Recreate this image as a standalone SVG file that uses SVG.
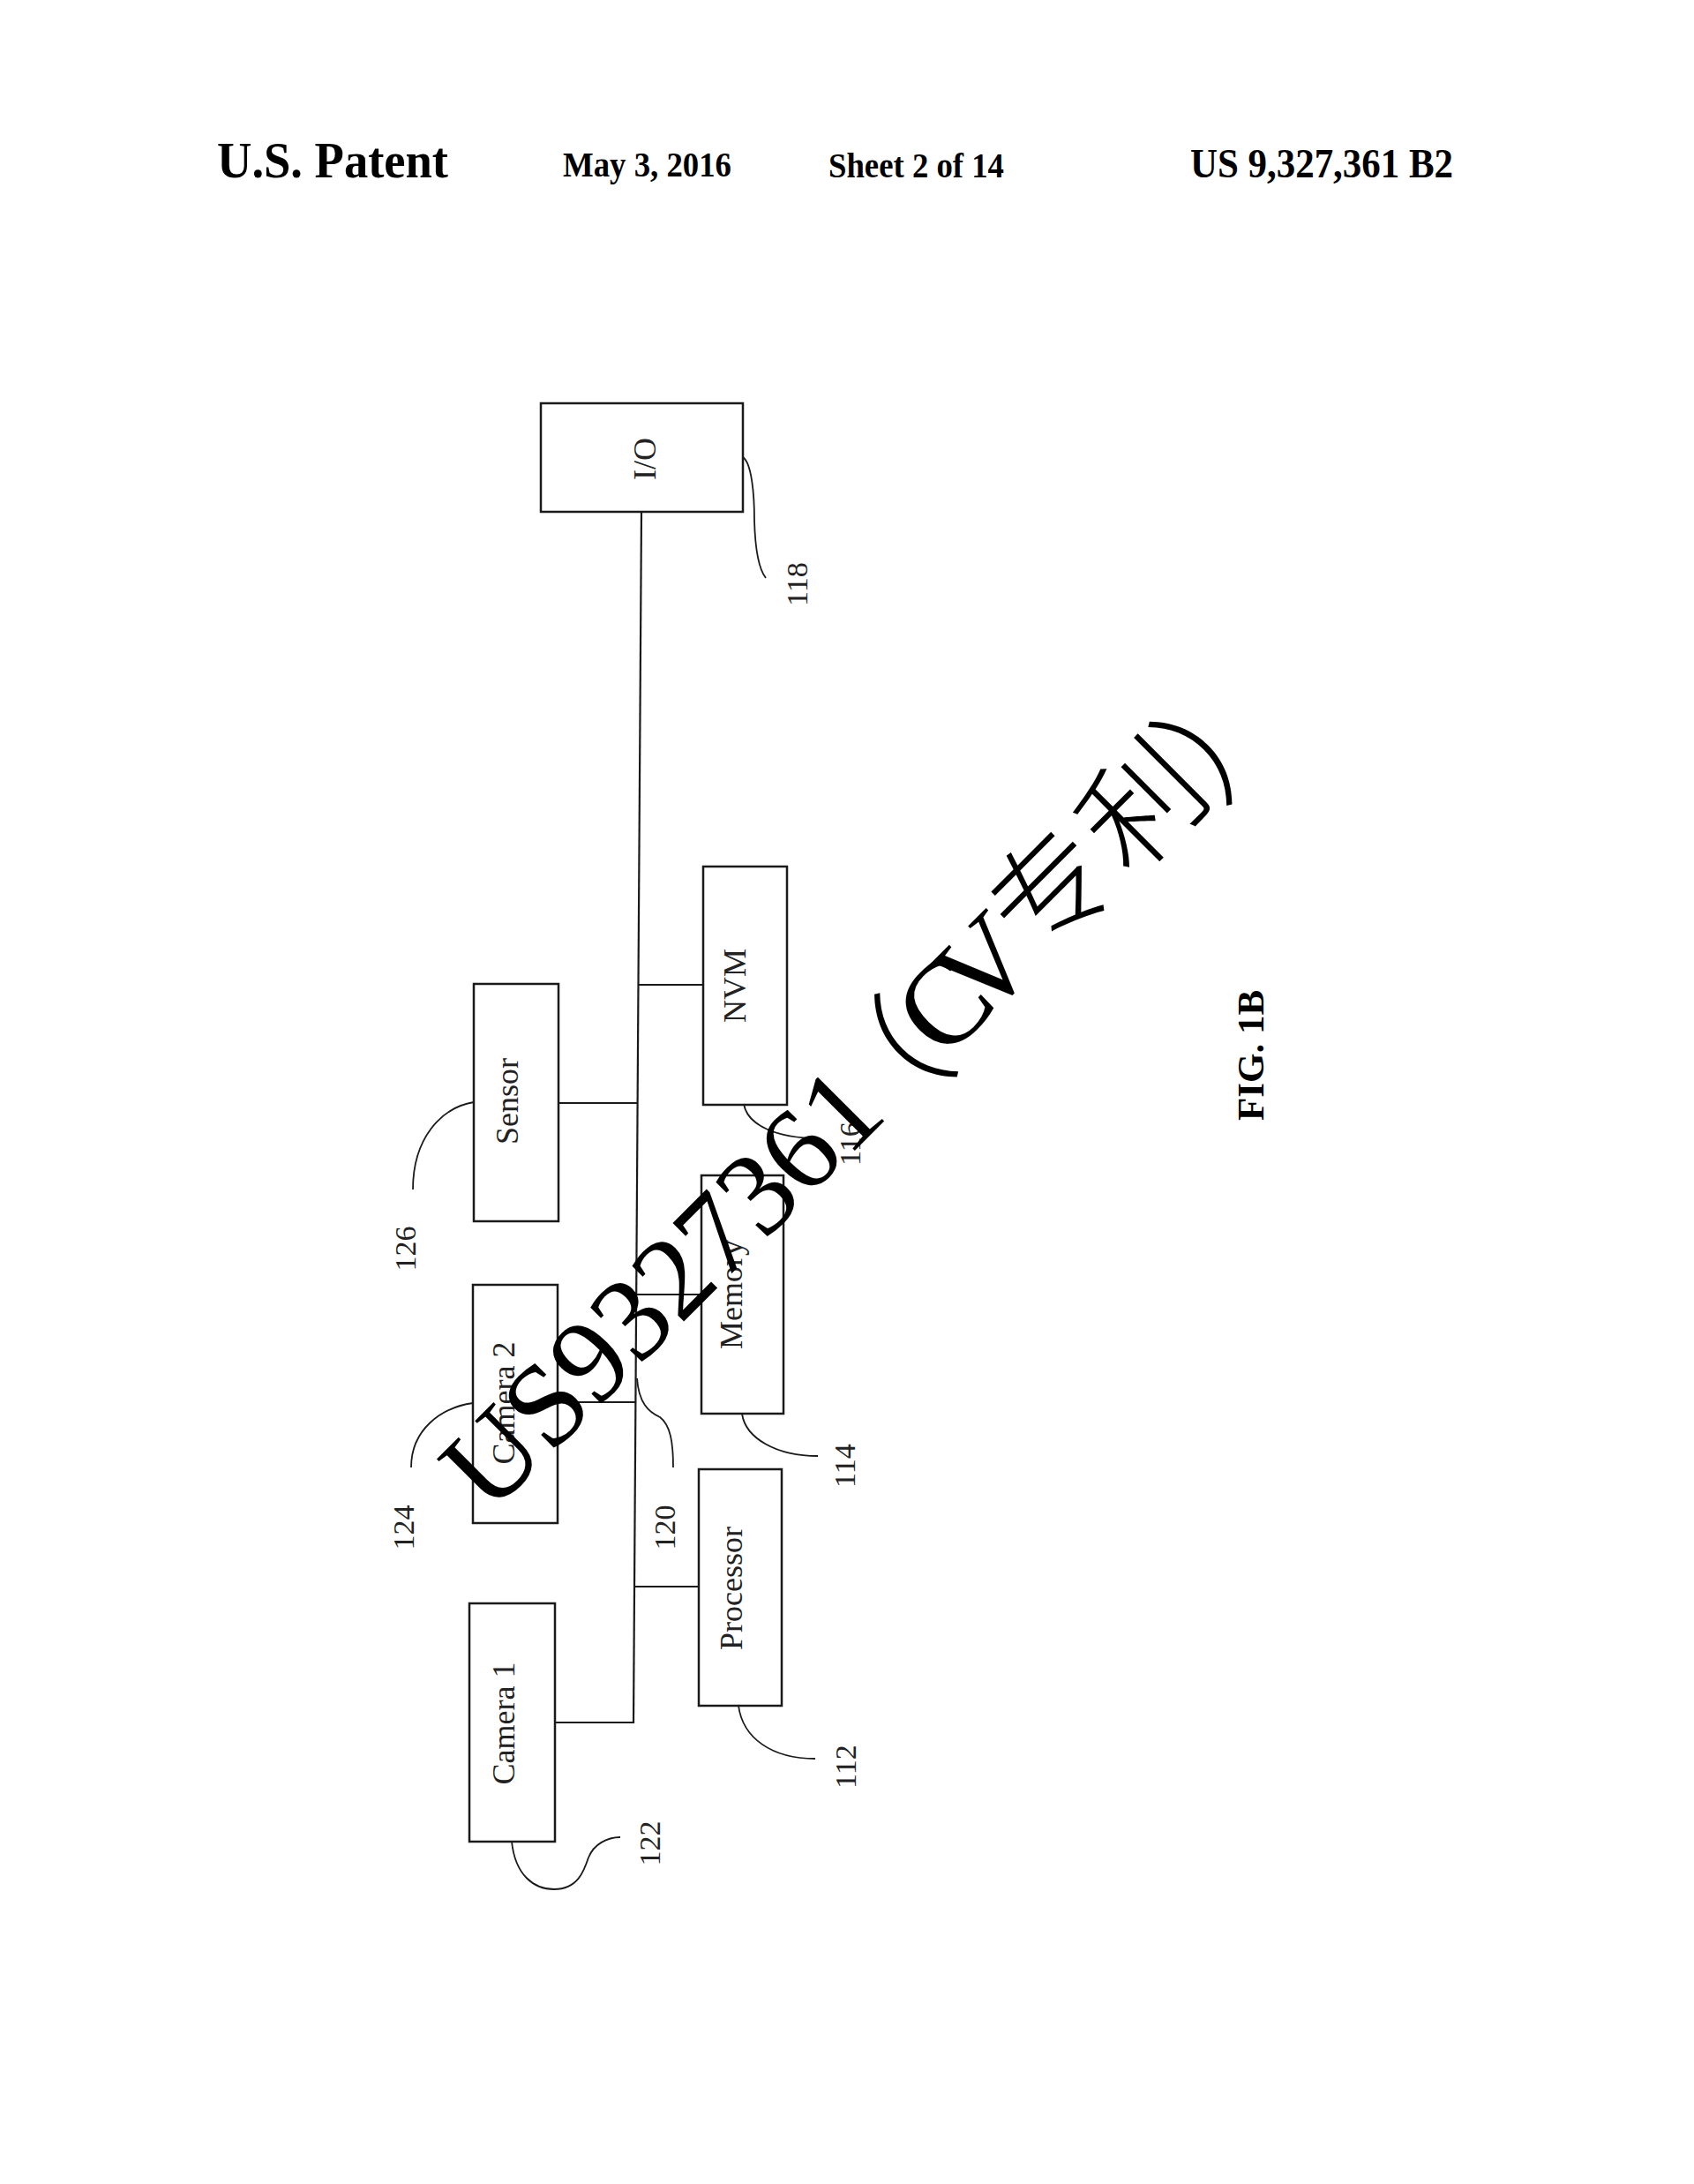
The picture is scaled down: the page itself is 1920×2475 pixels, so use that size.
<svg xmlns="http://www.w3.org/2000/svg" width="1920" height="2475" viewBox="0 0 1920 2475">
<defs>
<style>
.box{fill:none;stroke:#1a1a1a;stroke-width:2.5}
.ln{fill:none;stroke:#1a1a1a;stroke-width:2.2}
.ld{fill:none;stroke:#1a1a1a;stroke-width:1.8}
.hd{font-family:"Liberation Serif","Times New Roman",serif;font-weight:bold;fill:#000}
.lb{font-family:"Liberation Serif","Times New Roman",serif;font-size:36px;fill:#222;text-anchor:middle}
.num{font-family:"Liberation Serif","Times New Roman",serif;font-size:34px;fill:#222;text-anchor:middle}
.wm{font-family:"Liberation Serif","Noto Sans CJK SC",serif;fill:#000}
.wl{font-family:"Liberation Serif","Times New Roman",serif}
.wc{font-family:"Noto Sans CJK SC","Noto Sans CJK TC",sans-serif;font-weight:300}
</style>
</defs>
<rect x="0" y="0" width="1920" height="2475" fill="#fff"/>
<g id="header">
<text class="hd" x="246" y="201" font-size="58" textLength="262" lengthAdjust="spacingAndGlyphs">U.S. Patent</text>
<text class="hd" x="638" y="200" font-size="40" textLength="191" lengthAdjust="spacingAndGlyphs">May 3, 2016</text>
<text class="hd" x="939" y="201" font-size="41" textLength="199" lengthAdjust="spacingAndGlyphs">Sheet 2 of 14</text>
<text class="hd" x="1349" y="201" font-size="46" textLength="298" lengthAdjust="spacingAndGlyphs">US 9,327,361 B2</text>
</g>
<g id="connectors">
<line class="ln" x1="727" y1="580" x2="718" y2="1953"/>
<line class="ln" x1="723" y1="1116" x2="797" y2="1116"/>
<line class="ln" x1="633" y1="1250" x2="722" y2="1250"/>
<line class="ln" x1="720" y1="1467" x2="795" y2="1467"/>
<line class="ln" x1="632" y1="1589" x2="720" y2="1589"/>
<line class="ln" x1="719" y1="1798" x2="791" y2="1798"/>
<line class="ln" x1="629" y1="1952" x2="718" y2="1952"/>
</g>
<g id="leaders">
<path class="ld" d="M842,518 C852,525 855,560 855,590 C856,625 860,645 868,655"/>
<path class="ld" d="M843,1251 C847,1275 880,1290 928,1290"/>
<path class="ld" d="M537,1249 C500,1255 468,1290 468,1348"/>
<path class="ld" d="M841,1602 C845,1630 880,1650 927,1650"/>
<path class="ld" d="M536,1590 C500,1595 466,1620 466,1663"/>
<path class="ld" d="M722,1562 C724,1590 735,1600 748,1606 C760,1615 763,1635 763,1663"/>
<path class="ld" d="M837,1933 C842,1970 875,1993 924,1993"/>
<path class="ld" d="M580,2087 C584,2125 605,2141 628,2141 C655,2141 662,2120 667,2105 C673,2090 688,2082 703,2082"/>
</g>
<g id="io">
<rect class="box" x="613" y="457" width="229" height="123"/>
<text class="lb" transform="translate(743,520) rotate(-90)">I/O</text>
</g>
<g id="nvm">
<rect class="box" x="797" y="982" width="95" height="270"/>
<text class="lb" transform="translate(845,1117) rotate(-90)">NVM</text>
</g>
<g id="sensor">
<rect class="box" x="537" y="1115" width="96" height="269"/>
<text class="lb" transform="translate(587,1248) rotate(-90)">Sensor</text>
</g>
<g id="memory">
<rect class="box" x="795" y="1332" width="93" height="270"/>
<text class="lb" transform="translate(841,1467) rotate(-90)">Memory</text>
</g>
<g id="camera2">
<rect class="box" x="536" y="1456" width="96" height="270"/>
<text class="lb" transform="translate(583,1590) rotate(-90)">Camera 2</text>
</g>
<g id="processor">
<rect class="box" x="792" y="1665" width="94" height="268"/>
<text class="lb" transform="translate(841,1800) rotate(-90)">Processor</text>
</g>
<g id="camera1">
<rect class="box" x="532" y="1817" width="97" height="270"/>
<text class="lb" transform="translate(583,1953) rotate(-90)">Camera 1</text>
</g>
<g id="labels">
<text class="num" transform="translate(915,662) rotate(-90)">118</text>
<text class="num" transform="translate(975,1296) rotate(-90)">116</text>
<text class="num" transform="translate(471,1415) rotate(-90)">126</text>
<text class="num" transform="translate(969,1661) rotate(-90)">114</text>
<text class="num" transform="translate(469,1731) rotate(-90)">124</text>
<text class="num" transform="translate(765,1731) rotate(-90)">120</text>
<text class="num" transform="translate(970,2002) rotate(-90)">112</text>
<text class="num" transform="translate(748,2089) rotate(-90)">122</text>
<text class="hd" font-size="43" text-anchor="middle" transform="translate(1432,1196) rotate(-90)">FIG. 1B</text>
</g>
<g id="watermark">
<text class="wm" transform="rotate(-45)" y="1607"><tspan class="wl" font-size="134" x="-822">US9327361</tspan><tspan class="wc" font-size="140" x="-224" y="1617">（</tspan><tspan class="wl" font-size="136" x="-94" y="1607">C</tspan><tspan class="wl" font-size="136" x="-34">V</tspan><tspan class="wc" font-size="135" x="61" y="1605">专</tspan><tspan class="wc" font-size="135" x="202" y="1610">利</tspan><tspan class="wc" font-size="140" x="331" y="1619">）</tspan></text>
</g>
</svg>
